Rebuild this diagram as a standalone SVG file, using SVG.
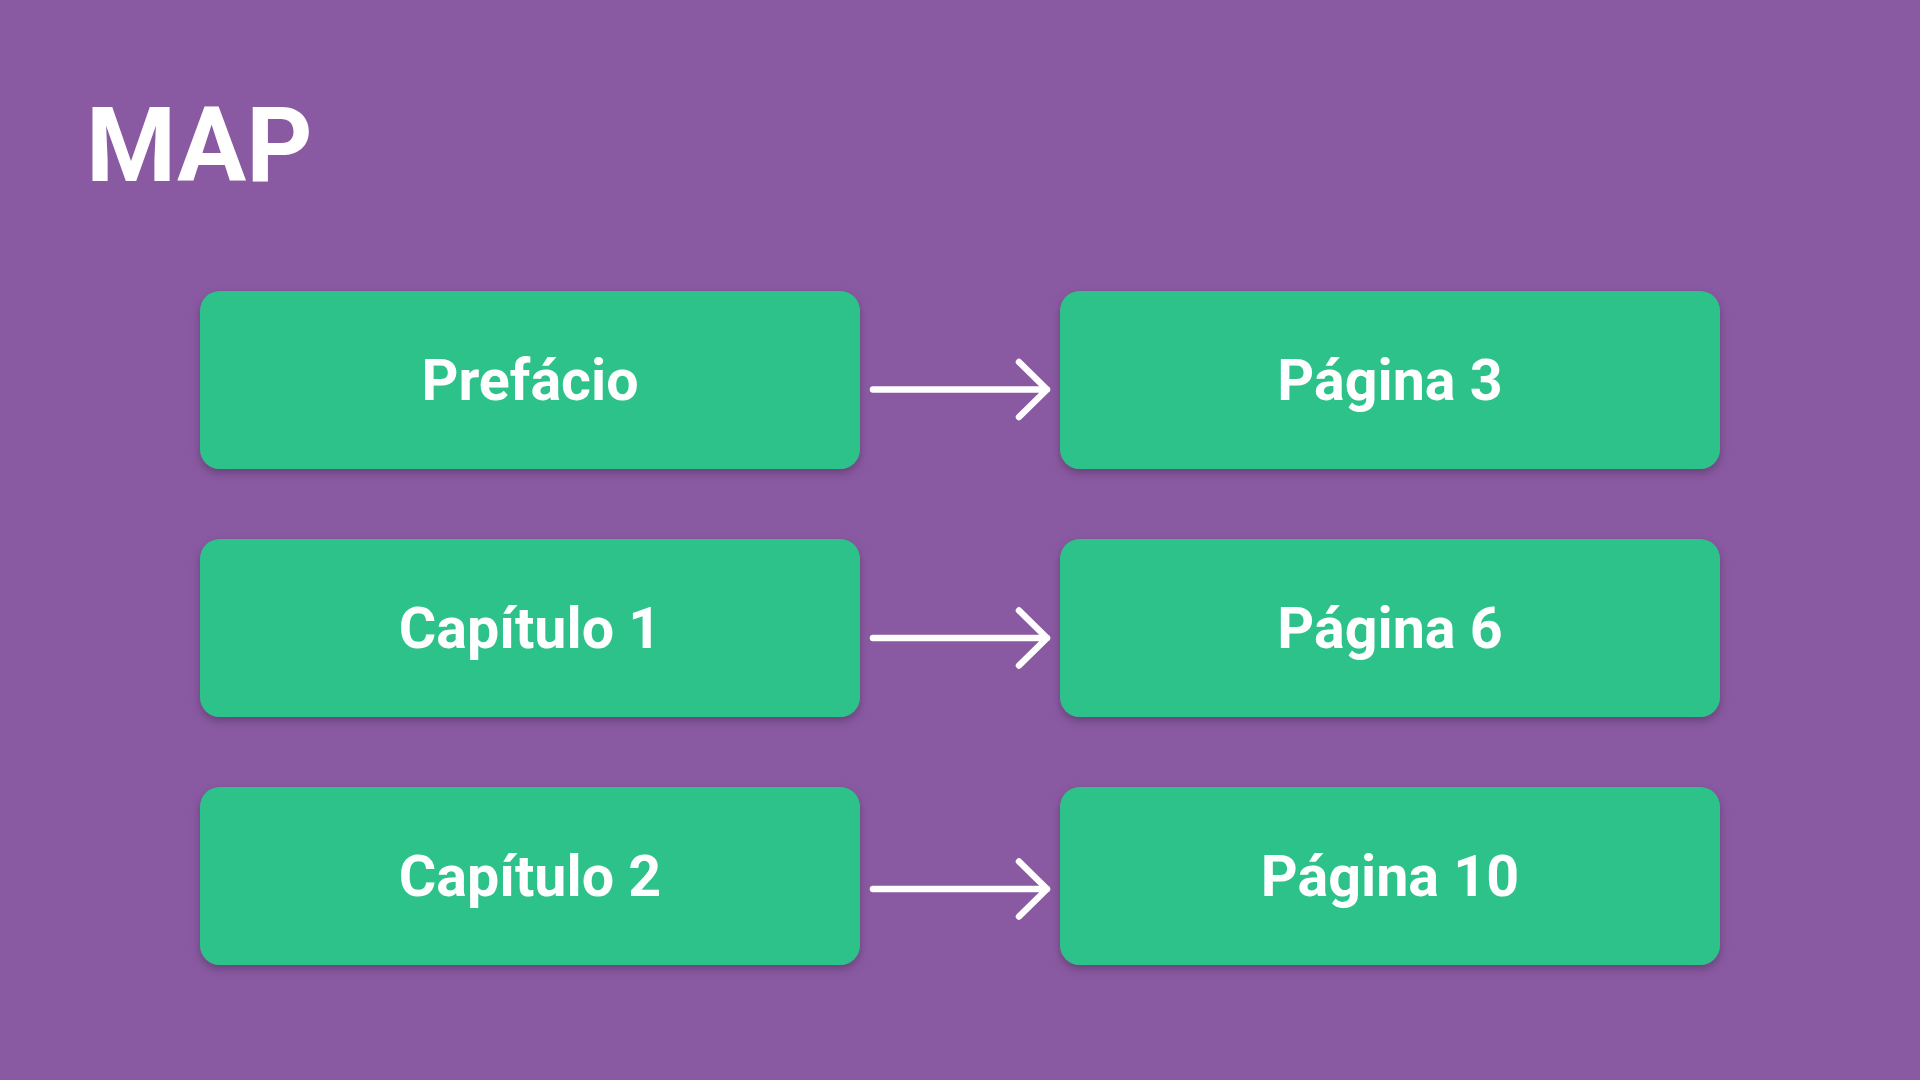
<svg xmlns="http://www.w3.org/2000/svg" width="1920" height="1080" viewBox="0 0 1920 1080">
<defs>
<filter id="sh" x="-10%" y="-20%" width="120%" height="150%">
<feDropShadow dx="0" dy="4" stdDeviation="4" flood-color="#000" flood-opacity="0.25"/>
</filter>
<style>
.box{fill:#2FC28B;filter:url(#sh)}
.lbl{font-family:Roboto,"Liberation Sans",sans-serif;font-weight:700;font-size:57.4px;fill:#fff;text-anchor:middle}
.title{font-family:Roboto,"Liberation Sans",sans-serif;font-weight:700;font-size:103px;fill:#fff}
.arr{fill:none;stroke:#fff;stroke-width:6.5;stroke-linecap:round;stroke-linejoin:round}
</style>
</defs>
<rect width="1920" height="1080" fill="#8959A1"/>
<text class="title" x="86" y="181">MAP</text>
<g id="n-prefacio"><rect class="box" x="200" y="291" width="660" height="178" rx="20"/><text class="lbl" x="530" y="400">Prefácio</text></g>
<g id="n-pagina3"><rect class="box" x="1060" y="291" width="660" height="178" rx="20"/><text class="lbl" x="1390" y="400">Página 3</text></g>
<g id="n-capitulo1"><rect class="box" x="200" y="539" width="660" height="178" rx="20"/><text class="lbl" x="530" y="648">Capítulo 1</text></g>
<g id="n-pagina6"><rect class="box" x="1060" y="539" width="660" height="178" rx="20"/><text class="lbl" x="1390" y="648">Página 6</text></g>
<g id="n-capitulo2"><rect class="box" x="200" y="787" width="660" height="178" rx="20"/><text class="lbl" x="530" y="896">Capítulo 2</text></g>
<g id="n-pagina10"><rect class="box" x="1060" y="787" width="660" height="178" rx="20"/><text class="lbl" x="1390" y="896">Página 10</text></g>
<g id="connectors">
<path class="arr" d="M873 389.5H1047M1019 362L1047 389.5L1019 417"/>
<path class="arr" d="M873 638H1047M1019 610.5L1047 638L1019 665.5"/>
<path class="arr" d="M873 889H1047M1019 861.5L1047 889L1019 916.5"/>
</g>
</svg>
